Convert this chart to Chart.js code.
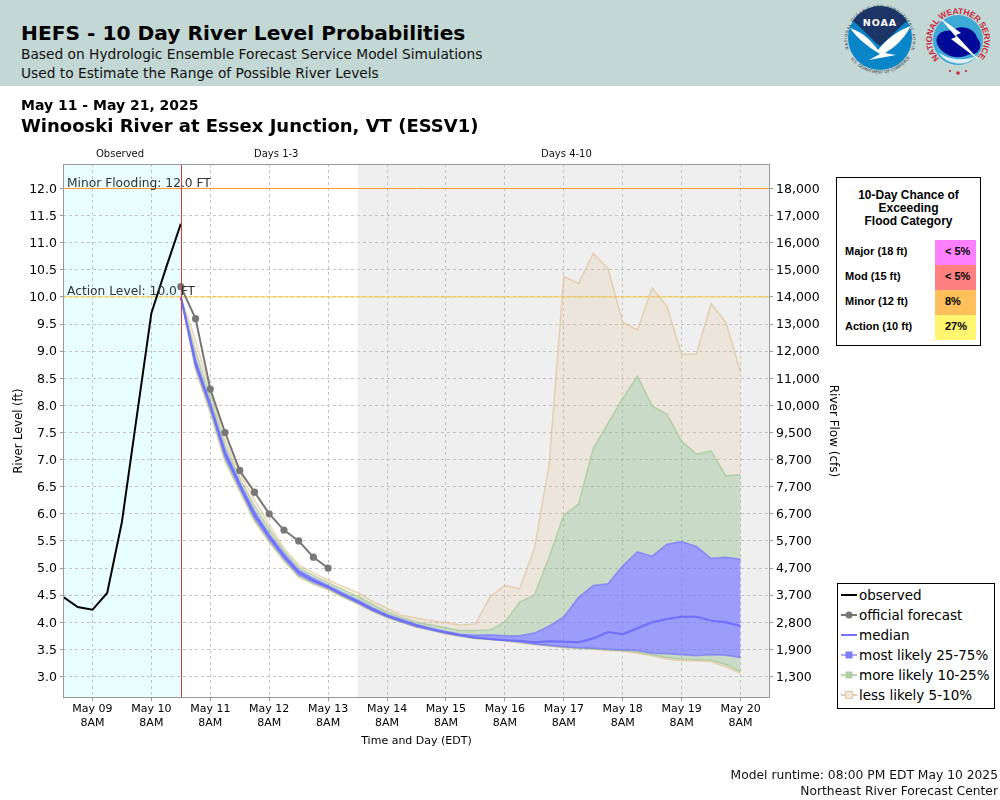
<!DOCTYPE html>
<html><head><meta charset="utf-8">
<script src="https://cdn.jsdelivr.net/npm/chart.js@4/dist/chart.umd.js"></script>
<style>
html,body{margin:0;padding:0;background:#fff;width:1000px;height:800px;overflow:hidden;font-family:"DejaVu Sans",sans-serif;color:#000}
#wrap{position:relative;width:1000px;height:800px}
#c{position:absolute;left:0;top:0}
.t{position:absolute;white-space:nowrap;line-height:1}
#hdr{position:absolute;left:0;top:0;width:1000px;height:86px;background:#c3d7d4}
#tbl{position:absolute;left:836px;top:177px;width:143px;height:167px;border:1px solid #000;background:#fff;font-family:"Liberation Sans",Arial,sans-serif;font-weight:bold}
#tbl .h{position:absolute;left:0;right:0;top:11px;text-align:center;font-size:12px;line-height:13px}
#tbl .l{position:absolute;left:8px;font-size:11px;line-height:25px}
#tbl .v{position:absolute;left:98px;width:41px;height:25.2px;font-size:11px;box-sizing:border-box;padding-left:10px}
#lg{position:absolute;left:837px;top:583px;width:156px;height:124px;border:1px solid #000;background:#fff}
#lg svg{position:absolute;left:0;top:0}
#lg .e{position:absolute;left:21px;font-size:13.5px;line-height:20px;white-space:nowrap}
</style></head><body>
<div id="wrap">
<canvas id="c" width="1000" height="800"></canvas>
<div id="hdr"></div>
<div class="t" style="left:21px;top:23px;font-size:20.2px;font-weight:bold">HEFS - 10 Day River Level Probabilities</div>
<div class="t" style="left:21px;top:48px;font-size:13.75px;color:#111">Based on Hydrologic Ensemble Forecast Service Model Simulations</div>
<div class="t" style="left:21px;top:67px;font-size:13.75px;color:#111">Used to Estimate the Range of Possible River Levels</div>
<svg style="position:absolute;left:840px;top:2px" width="160" height="80" viewBox="0 0 160 80">
  <defs>
    <path id="ring1" d="M 9 48 A 32.5 32.5 0 1 1 71 48"/>
    <path id="ring2" d="M 5 44 A 36 36 0 0 0 75 44"/>
    <path id="ring3" d="M 99.6 56.4 A 26 26 0 1 1 136.4 56.4"/>
  </defs>
  <circle cx="40" cy="36" r="32" fill="#0a86c8"/>
  <path d="M13 19 A32 32 0 0 1 67 19 C58 26 50 36 40 44 C30 36 22 26 13 19 Z" fill="#1d3466"/>
  <path d="M10 26 C22 30 31 38 38 48 C46 38 58 28 71 24 C62 40 52 47 45 51 L56 53 L29 58 L40 52 C28 45 18 37 10 26 Z" fill="#fff"/>
  <text x="40" y="24" text-anchor="middle" font-size="9.5" font-weight="bold" fill="#fff" font-family="DejaVu Sans" letter-spacing="1">NOAA</text>
  <text font-size="4.1" fill="#334" font-family="DejaVu Sans"><textPath href="#ring1" startOffset="1" textLength="148">NATIONAL OCEANIC AND ATMOSPHERIC ADMINISTRATION</textPath></text>
  <text font-size="4.1" fill="#334" font-family="DejaVu Sans"><textPath href="#ring2" startOffset="14">U.S. DEPARTMENT OF COMMERCE</textPath></text>
  <circle cx="118" cy="38" r="25" fill="#3fa9d6"/>
  <path d="M97 42 C94 32 104 27 112 29 C120 21 136 27 137 36 C144 42 139 54 130 52 C120 58 104 56 97 42 Z" fill="#000a96"/>
  <path d="M100 16 L121 31 L116 33 L139 58 L111 37 L116 35 Z" fill="#fff"/>
  <path d="M98 50 C108 58 126 60 138 53 A25 25 0 0 1 98 50 Z" fill="#dff1f8"/>
  <text font-size="8.5" font-weight="bold" fill="#c8283c" font-family="Liberation Sans"><textPath href="#ring3" startOffset="0" textLength="120">NATIONAL WEATHER SERVICE</textPath></text>
  <circle cx="118" cy="71" r="1.8" fill="#c8283c"/><circle cx="110" cy="69" r="1.1" fill="#c8283c"/><circle cx="126" cy="69" r="1.1" fill="#c8283c"/>
</svg>
<div class="t" style="left:21px;top:98px;font-size:14px;font-weight:bold">May 11 - May 21, 2025</div>
<div class="t" style="left:21px;top:117px;font-size:18px;font-weight:bold">Winooski River at Essex Junction, VT (ESSV1)</div>
<div class="t" style="left:96px;top:149px;font-size:10px;color:#111">Observed</div>
<div class="t" style="left:254px;top:149px;font-size:10px;color:#111">Days 1-3</div>
<div class="t" style="left:541px;top:149px;font-size:10px;color:#111">Days 4-10</div>

<div id="tbl">
  <div class="h">10-Day Chance of<br>Exceeding<br>Flood Category</div>
  <div class="l" style="top:61px">Major (18 ft)</div><div class="v" style="top:62px;background:#ff80ff;line-height:23px">&lt; 5%</div>
  <div class="l" style="top:86px">Mod (15 ft)</div><div class="v" style="top:87px;background:#ff8080;line-height:23px">&lt; 5%</div>
  <div class="l" style="top:111px">Minor (12 ft)</div><div class="v" style="top:112px;background:#ffc05c;line-height:23px">8%</div>
  <div class="l" style="top:136px">Action (10 ft)</div><div class="v" style="top:137px;background:#fff56e;line-height:23px">27%</div>
</div>

<div id="lg">
  <svg width="156" height="124">
    <line x1="3" x2="19" y1="11" y2="11" stroke="#000" stroke-width="2"/>
    <line x1="3" x2="19" y1="31" y2="31" stroke="#777" stroke-width="2"/><circle cx="11" cy="31" r="3.5" fill="#777"/>
    <line x1="3" x2="19" y1="51" y2="51" stroke="#7373ff" stroke-width="2"/>
    <line x1="3" x2="19" y1="71" y2="71" stroke="#a8a8ff" stroke-width="2"/><rect x="7.5" y="67.5" width="7" height="7" fill="#7d7df5"/>
    <line x1="3" x2="19" y1="91" y2="91" stroke="#bcd8b0" stroke-width="2"/><rect x="7.5" y="87.5" width="7" height="7" fill="#b0d0a4"/>
    <line x1="3" x2="19" y1="111" y2="111" stroke="#e3cfb6" stroke-width="2"/><rect x="7.5" y="107.5" width="7" height="7" fill="#f1e7da" stroke="#dfc8ac"/>
  </svg>
  <div class="e" style="top:1px">observed</div>
  <div class="e" style="top:21px">official forecast</div>
  <div class="e" style="top:41px">median</div>
  <div class="e" style="top:61px">most likely 25-75%</div>
  <div class="e" style="top:81px">more likely 10-25%</div>
  <div class="e" style="top:101px">less likely 5-10%</div>
</div>
<div class="t" style="right:2px;top:769px;font-size:12.3px;color:#111">Model runtime: 08:00 PM EDT May 10 2025</div>
<div class="t" style="right:2px;top:785px;font-size:12.3px;color:#111">Northeast River Forecast Center</div>
</div>
<script>
// x values are hours counted from May 09 8AM
const xTickHours = [0,24,48,72,96,120,144,168,192,216,240,264];
const xTickLabels = ['May 09','May 10','May 11','May 12','May 13','May 14','May 15','May 16','May 17','May 18','May 19','May 20'];
const stageTicks = [3,3.5,4,4.5,5,5.5,6,6.5,7,7.5,8,8.5,9,9.5,10,10.5,11,11.5,12];
const flowTicks = ['1,300','1,900','2,800','3,700','4,700','5,700','6,700','7,700','8,700','9,500','10,000','11,000','12,000','13,000','14,000','15,000','16,000','17,000','18,000'];

const observedHours = [-12,-6,0,6,12,18,24,30,36];
const observed = [4.47,4.28,4.23,4.54,5.85,7.78,9.70,10.54,11.35];

const officialHours = [36,42,48,54,60,66,72,78,84,90,96];
const official = [10.19,9.60,8.30,7.50,6.80,6.40,6.00,5.70,5.50,5.20,5.00];

const ensembleHours = [36,42,48,54,60,66,72,78,84,90,96,102,108,114,120,126,132,138,144,150,156,162,168,174,180,186,192,198,204,210,216,222,228,234,240,246,252,258,264];
const p5 = [10.0,8.65,7.85,6.96,6.41,5.86,5.47,5.13,4.83,4.70,4.60,4.46,4.34,4.20,4.09,4.00,3.91,3.85,3.79,3.74,3.70,3.68,3.66,3.62,3.59,3.56,3.53,3.52,3.50,3.48,3.47,3.43,3.38,3.32,3.29,3.29,3.27,3.18,3.06];
const p10 = [10.0,8.68,7.90,7.00,6.44,5.89,5.50,5.15,4.85,4.72,4.61,4.47,4.35,4.21,4.09,4.00,3.91,3.85,3.79,3.74,3.70,3.68,3.66,3.63,3.60,3.57,3.54,3.52,3.51,3.49,3.48,3.45,3.40,3.35,3.32,3.31,3.30,3.22,3.09];
const p25 = [10.0,8.72,7.95,7.05,6.48,5.93,5.53,5.18,4.88,4.74,4.63,4.49,4.36,4.22,4.10,4.01,3.92,3.86,3.80,3.75,3.71,3.69,3.67,3.64,3.60,3.57,3.55,3.53,3.52,3.50,3.49,3.48,3.43,3.42,3.40,3.38,3.40,3.39,3.35];
const median = [10.0,8.78,8.00,7.12,6.53,5.98,5.58,5.22,4.92,4.77,4.65,4.51,4.38,4.24,4.12,4.03,3.94,3.87,3.81,3.76,3.72,3.69,3.67,3.66,3.63,3.65,3.64,3.63,3.70,3.82,3.78,3.89,4.00,4.06,4.10,4.10,4.03,4.00,3.93];
const p75 = [10.0,8.85,8.05,7.18,6.58,6.05,5.63,5.27,4.96,4.81,4.68,4.54,4.41,4.27,4.14,4.05,3.96,3.89,3.83,3.78,3.76,3.77,3.75,3.75,3.80,3.93,4.10,4.46,4.68,4.71,5.04,5.30,5.22,5.44,5.49,5.40,5.18,5.20,5.16];
const p90 = [10.0,9.00,8.15,7.27,6.66,6.15,5.72,5.32,5.01,4.86,4.73,4.60,4.48,4.33,4.19,4.09,4.00,3.95,3.90,3.85,3.85,3.86,4.00,4.37,4.50,5.20,5.98,6.18,7.21,7.67,8.13,8.54,7.99,7.84,7.34,7.10,7.16,6.70,6.72];
const p95 = [10.0,9.20,8.25,7.36,6.75,6.26,5.80,5.37,5.06,4.91,4.78,4.66,4.55,4.39,4.26,4.13,4.08,4.03,3.99,3.95,3.97,4.47,4.68,4.62,5.36,6.90,10.38,10.25,10.80,10.53,9.53,9.39,10.17,9.83,8.94,8.95,9.88,9.53,8.62];

const thresholdHours = [-12,276];
const minorLevel = [12,12];
const actionLevel = [10,10];
const observedRegion = [-12,36];
const lateRegion = [108,276];

const pairs = (xs,ys)=>ys.map((y,i)=>({x:xs[i],y}));
const TAN='rgba(222,184,135,0.19)', GREEN='rgba(130,180,120,0.34)', BLUE='rgba(110,110,255,0.65)';
const band=(label,ys,edge,fillTo,fillColor,order)=>({label,data:pairs(ensembleHours,ys),borderColor:edge,borderWidth:1.5,pointRadius:0,tension:0,order,
  fill:fillTo===null?false:{target:fillTo},backgroundColor:fillColor});

const regions={id:'regions',
  beforeDraw(ch){const {ctx,chartArea:a,scales:{x}}=ch;ctx.save();
    const px=v=>Math.round(x.getPixelForValue(v));
    ctx.fillStyle='#e9ffff';ctx.fillRect(px(observedRegion[0]),a.top,px(observedRegion[1])-px(observedRegion[0]),a.height);
    ctx.fillStyle='#efefef';ctx.fillRect(px(lateRegion[0]),a.top,px(lateRegion[1])-px(lateRegion[0]),a.height);
    ctx.restore();},
  afterDatasetsDraw(ch){const {ctx,chartArea:a,scales:{x,y}}=ch;ctx.save();
    ctx.strokeStyle='#d83a3a';ctx.lineWidth=1;ctx.beginPath();const vx=Math.round(x.getPixelForValue(observedRegion[1]))+.5;ctx.moveTo(vx,a.top);ctx.lineTo(vx,a.bottom);ctx.stroke();
    ctx.strokeStyle='#999';ctx.lineWidth=1;ctx.strokeRect(a.left+.5,a.top+.5,a.width-1,a.height-1);
    ctx.fillStyle='#333';ctx.font='12.25px "DejaVu Sans"';ctx.textBaseline='alphabetic';
    ctx.fillText('Minor Flooding: 12.0 FT',a.left+4,y.getPixelForValue(12)-2);
    ctx.fillText('Action Level: 10.0 FT',a.left+4,y.getPixelForValue(10)-2);
    ctx.restore();}
};

new Chart(document.getElementById('c'),{
  type:'line',
  plugins:[regions],
  data:{datasets:[
    /*0*/ band('less likely 5-10% low',p5,'rgba(222,184,135,.55)',null,TAN,6),
    /*1*/ band('more likely 10-25% low',p10,'rgba(150,195,135,.55)',0,TAN,5),
    /*2*/ band('most likely 25-75% low',p25,'rgba(100,100,255,.55)',1,GREEN,4),
    /*3*/ band('most likely 25-75% high',p75,'rgba(100,100,255,.55)',2,BLUE,4),
    /*4*/ band('more likely 10-25% high',p90,'rgba(150,195,135,.55)',3,GREEN,5),
    /*5*/ band('less likely 5-10% high',p95,'rgba(222,184,135,.55)',4,TAN,6),
    /*6*/ {label:'median',data:pairs(ensembleHours,median),borderColor:'#6e6eff',borderWidth:2,pointRadius:0,fill:false,order:3},
    /*7*/ {label:'official forecast',data:pairs(officialHours,official),borderColor:'#777',backgroundColor:'#777',borderWidth:2,pointRadius:3.6,pointBorderWidth:0,fill:false,order:2},
    /*8*/ {label:'observed',data:pairs(observedHours,observed),borderColor:'#000',borderWidth:2,pointRadius:0,fill:false,order:1},
    /*9*/ {label:'Minor Flooding',data:pairs(thresholdHours,minorLevel),borderColor:'#ff9a33',borderWidth:1,pointRadius:0,fill:false,order:7},
    /*10*/{label:'Action Level',data:pairs(thresholdHours,actionLevel),borderColor:'#f7cb45',borderWidth:1,pointRadius:0,fill:false,order:7}
  ]},
  options:{
    responsive:false,animation:false,devicePixelRatio:1,
    layout:{padding:{left:0,top:164,right:160,bottom:52}},
    plugins:{legend:{display:false},tooltip:{enabled:false},title:{display:false}},
    scales:{
      x:{type:'linear',min:-12,max:276,
        afterBuildTicks(s){s.ticks=xTickHours.map(value=>({value}));},
        grid:{color:'#c4c4c4',tickLength:3,tickColor:'#999',drawOnChartArea:true},
        border:{display:false,dash:[3,3]},
        afterFit(s){s.height=50;},
        ticks:{autoSkip:false,maxRotation:0,color:'#000',font:{size:11,family:'DejaVu Sans'},padding:2,
          callback:v=>[xTickLabels[xTickHours.indexOf(v)],'8AM']},
        title:{display:true,text:'Time and Day (EDT)',color:'#000',font:{size:11,family:'DejaVu Sans'},padding:{top:0,bottom:0}}
      },
      y:{type:'linear',position:'left',min:2.603,max:12.452,
        afterBuildTicks(s){s.ticks=stageTicks.map(value=>({value}));},
        afterFit(s){s.width=63;},
        grid:{color:'#c4c4c4',tickLength:3,tickColor:'#999'},
        border:{display:false,dash:[3,3]},
        ticks:{color:'#000',font:{size:12.5,family:'DejaVu Sans'},padding:3,labelOffset:1,callback:v=>v.toFixed(1)},
        title:{display:true,text:'River Level (ft)',color:'#000',font:{size:11.5,family:'DejaVu Sans'},padding:{top:12,bottom:0}}
      },
      y2:{type:'linear',position:'right',min:2.603,max:12.452,
        afterBuildTicks(s){s.ticks=stageTicks.map(value=>({value}));},
        afterFit(s){s.width=70;},
        grid:{drawOnChartArea:false,tickLength:3,tickColor:'#999'},
        border:{display:false},
        ticks:{color:'#000',font:{size:12.5,family:'DejaVu Sans'},padding:3,labelOffset:1,callback:v=>flowTicks[stageTicks.indexOf(v)]},
        title:{display:true,text:'River Flow (cfs)',color:'#000',font:{size:12,family:'DejaVu Sans'},padding:{top:0,bottom:6}}
      }
    }
  }
});
</script>
</body></html>
